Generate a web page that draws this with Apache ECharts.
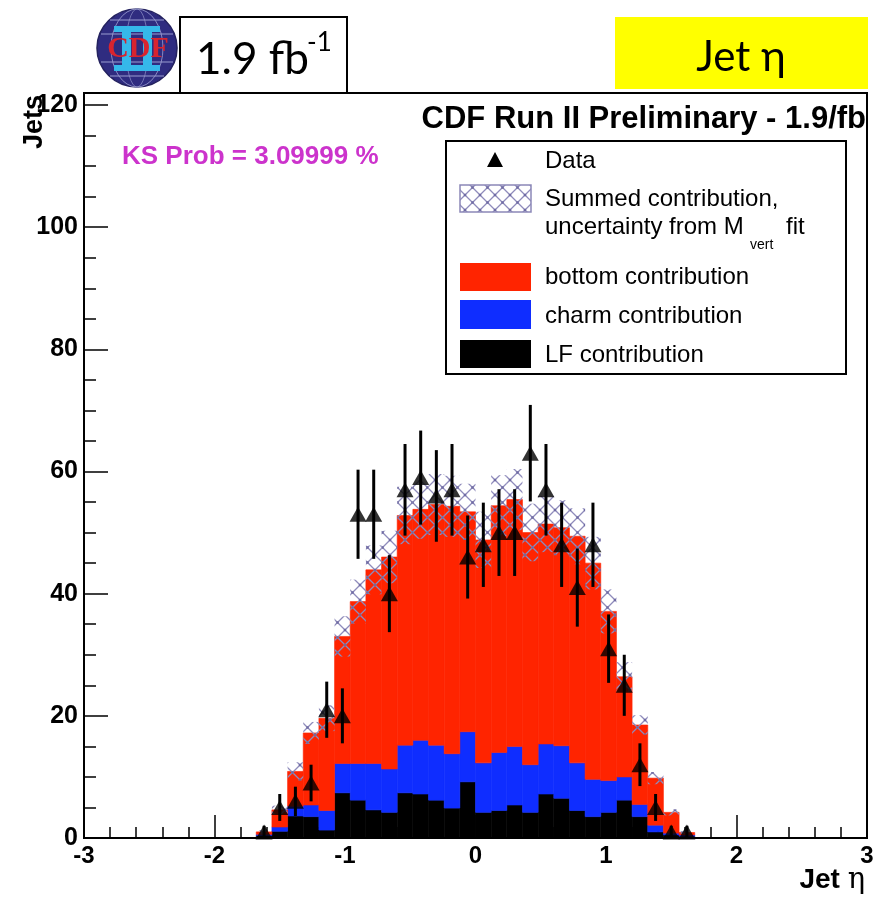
<!DOCTYPE html>
<html><head><meta charset="utf-8">
<script src="https://cdn.jsdelivr.net/npm/echarts@6/dist/echarts.min.js"></script>
<style>html,body{margin:0;padding:0;background:#fff}#c{width:877px;height:899px}</style>
</head><body><div id="c"></div>
<script>
// ---- data ----
const binCenters = [-1.62,-1.50,-1.38,-1.26,-1.14,-1.02,-0.90,-0.78,-0.66,-0.54,-0.42,-0.30,-0.18,-0.06,
                     0.06, 0.18, 0.30, 0.42, 0.54, 0.66, 0.78, 0.90, 1.02, 1.14, 1.26, 1.38, 1.50, 1.62];
const binWidth = 0.12;
const lfContribution     = [0.4,1.1,3.6,3.5,1.3,7.4,6.2,4.6,4.2,7.4,7.2,6.2,4.9,9.2,4.2,4.5,5.4,4.2,7.2,6.5,4.5,3.5,4.2,6.2,3.5,1.0,0.5,0.3];
const charmContribution  = [0.2,0.7,1.6,1.9,3.2,4.8,6.0,7.6,7.1,7.8,8.8,9.0,8.9,8.2,8.1,9.5,9.6,7.8,8.2,8.6,7.8,6.1,5.2,3.8,2.0,1.1,0.3,0.2];
const bottomContribution = [0.4,2.8,5.7,11.8,15.1,20.8,26.5,31.7,34.7,37.6,37.8,39.4,40.5,36.0,36.5,40.4,40.4,38.0,36.0,35.7,37.1,35.4,27.7,16.4,13.0,7.7,3.4,0.4];
const sumUncertainty     = [0.3,0.7,1.5,1.8,2.1,3.3,3.6,4.0,4.3,4.7,4.8,5.0,5.0,4.6,4.6,5.0,5.0,4.7,4.6,4.5,4.6,4.3,3.6,2.4,1.6,1.0,0.5,0.2];
const dataCounts = [1,5,6,9,21,20,53,53,40,57,59,56,57,46,48,50,50,63,57,48,41,48,31,25,12,5,1,1];
const dataErrors = [1,2.2,2.4,3,4.6,4.5,7.3,7.3,6.3,7.5,7.7,7.5,7.5,6.8,6.9,7.1,7.1,7.9,7.5,6.9,6.4,6.9,5.6,5,3.5,2.2,1,1];
const xTicks = [-3,-2,-1,0,1,2,3];
const yTicks = [0,20,40,60,80,100,120];

// ---- derived layers ----
const lfLayer = [], charmLayer = [], bottomLayer = [], bandLayer = [];
binCenters.forEach((c, i) => {
  const a = lfContribution[i], b = a + charmContribution[i], t = b + bottomContribution[i];
  lfLayer.push([c, 0, a]);
  charmLayer.push([c, a, b]);
  bottomLayer.push([c, b, t]);
  bandLayer.push([c, t - sumUncertainty[i], t + sumUncertainty[i]]);
});
const points = binCenters.map((c, i) => [c, dataCounts[i]]);
const errs = binCenters.map((c, i) => [c, dataCounts[i] - dataErrors[i], dataCounts[i] + dataErrors[i]]);

function makeHatch() {
  const s = 15, cv = document.createElement('canvas');
  cv.width = s; cv.height = s;
  const g = cv.getContext('2d');
  g.strokeStyle = '#8f8bbb'; g.lineWidth = 1.3;
  g.beginPath(); g.moveTo(0, 0); g.lineTo(s, s); g.moveTo(s, 0); g.lineTo(0, s); g.stroke();
  g.fillStyle = '#6f6ba3';
  g.fillRect(s/2 - 1.2, s/2 - 1.2, 2.4, 2.4);
  [[0,0],[s,0],[0,s],[s,s]].forEach(p => g.fillRect(p[0]-1.2, p[1]-1.2, 2.4, 2.4));
  return cv;
}
const hatch = { image: makeHatch(), repeat: 'repeat' };

function rectRenderer(fill, stroke) {
  return function (params, api) {
    const c = api.value(0), lo = api.value(1), hi = api.value(2);
    const p0 = api.coord([c - binWidth / 2, lo]);
    const p1 = api.coord([c + binWidth / 2, hi]);
    return {
      type: 'rect',
      shape: { x: p0[0], y: p1[1], width: p1[0] - p0[0], height: p0[1] - p1[1] },
      style: { fill: fill, stroke: stroke, lineWidth: stroke ? 0.6 : 0 }
    };
  };
}

const RED = '#ff2400', BLUE = '#0f2dff', BLACK = '#000000', HATCHC = '#8c88b8';
const F = 'Liberation Sans, Arial, sans-serif';
function txt(x, y, text, font, extra) {
  return { type: 'text', z: 61, x: x, y: y,
    style: Object.assign({ text: text, font: font, fill: '#000', align: 'left', verticalAlign: 'middle' }, extra || {}) };
}
function oval(cx, cy, rx, ry, style, z) {
  return { type: 'circle', z: z, x: cx, y: cy, scaleX: rx / ry, shape: { cx: 0, cy: 0, r: ry },
           style: Object.assign({ strokeNoScale: true }, style) };
}

const chart = echarts.init(document.getElementById('c'), null, { renderer: 'canvas' });
chart.setOption({
  animation: false,
  backgroundColor: '#fff',
  grid: { left: 84, right: 10, top: 105, bottom: 61, show: false },
  xAxis: {
    type: 'value', min: xTicks[0], max: xTicks[xTicks.length - 1], interval: 1,
    axisLine: { show: true, onZero: false, lineStyle: { color: '#000', width: 2 } },
    axisTick: { show: true, inside: true, length: 23, lineStyle: { color: '#000', width: 1.5 } },
    minorTick: { show: true, splitNumber: 5, length: 11, lineStyle: { color: '#000', width: 1.5 } },
    splitLine: { show: false },
    axisLabel: { color: '#000', fontFamily: F, fontWeight: 'bold', fontSize: 24, margin: 6 }
  },
  yAxis: {
    type: 'value', min: yTicks[0], max: yTicks[yTicks.length - 1], interval: 20,
    axisLine: { show: true, onZero: false, lineStyle: { color: '#000', width: 2 } },
    axisTick: { show: true, inside: true, length: 24, lineStyle: { color: '#000', width: 1.5 } },
    minorTick: { show: true, splitNumber: 4, length: 12, lineStyle: { color: '#000', width: 1.5 } },
    splitLine: { show: false },
    axisLabel: { color: '#000', fontFamily: F, fontWeight: 'bold', fontSize: 25, margin: 6 }
  },
  series: [
    { type: 'custom', name: 'LF', renderItem: rectRenderer(BLACK, BLACK), data: lfLayer, encode: { x: 0, y: [1, 2] }, z: 2 },
    { type: 'custom', name: 'charm', renderItem: rectRenderer(BLUE, BLUE), data: charmLayer, encode: { x: 0, y: [1, 2] }, z: 2 },
    { type: 'custom', name: 'bottom', renderItem: rectRenderer(RED, RED), data: bottomLayer, encode: { x: 0, y: [1, 2] }, z: 2 },
    { type: 'custom', name: 'sum', renderItem: rectRenderer(hatch, null), data: bandLayer, encode: { x: 0, y: [1, 2] }, z: 3 },
    {
      type: 'custom', name: 'err', z: 4, data: errs, encode: { x: 0, y: [1, 2] },
      renderItem: function (params, api) {
        const c = api.value(0);
        const a = api.coord([c, api.value(1)]), b = api.coord([c, api.value(2)]);
        return { type: 'line', shape: { x1: a[0], y1: a[1], x2: b[0], y2: b[1] }, style: { stroke: '#000', lineWidth: 3 } };
      }
    },
    { type: 'scatter', name: 'Data', z: 5, data: points, symbol: 'triangle', symbolSize: [17, 15], itemStyle: { color: '#000' } }
  ],
  graphic: [
    // plot frame
    { type: 'rect', z: 50, shape: { x: 84, y: 93, width: 783, height: 745 }, style: { fill: null, stroke: '#000', lineWidth: 2 } },
    // title + KS
    txt(866, 119, 'CDF Run II Preliminary - 1.9/fb', 'bold 31px ' + F, { align: 'right' }),
    txt(122, 157, 'KS Prob = 3.09999 %', 'bold 26px ' + F, { fill: '#cc33cc' }),
    // legend
    { type: 'rect', z: 60, shape: { x: 446, y: 141, width: 400, height: 233 }, style: { fill: '#fff', stroke: '#000', lineWidth: 2 } },
    { type: 'polygon', z: 61, shape: { points: [[495, 152], [503, 167], [487, 167]] }, style: { fill: '#000' } },
    txt(545, 161, 'Data', '24px ' + F),
    { type: 'rect', z: 61, shape: { x: 460, y: 185, width: 71, height: 27 }, style: { fill: hatch, stroke: HATCHC, lineWidth: 1.5 } },
    txt(545, 199, 'Summed contribution,', '24px ' + F),
    txt(545, 227, 'uncertainty from M', '24px ' + F),
    txt(750, 245, 'vert', '14px ' + F),
    txt(786, 227, 'fit', '24px ' + F),
    { type: 'rect', z: 61, shape: { x: 460, y: 263, width: 71, height: 28 }, style: { fill: RED } },
    txt(545, 277, 'bottom contribution', '24px ' + F),
    { type: 'rect', z: 61, shape: { x: 460, y: 300, width: 71, height: 29 }, style: { fill: BLUE } },
    txt(545, 316, 'charm contribution', '24px ' + F),
    { type: 'rect', z: 61, shape: { x: 460, y: 340, width: 71, height: 28 }, style: { fill: BLACK } },
    txt(545, 355, 'LF contribution', '24px ' + F),
    // axis titles
    { type: 'text', z: 62, x: 35, y: 95, rotation: Math.PI / 2,
      style: { text: 'Jets', font: 'bold 27px ' + F, fill: '#000', align: 'right', verticalAlign: 'middle' } },
    { type: 'text', z: 62, x: 865, y: 880,
      style: { text: '{b|Jet }{g|η}', align: 'right', verticalAlign: 'middle',
        rich: { b: { fontFamily: F, fontWeight: 'bold', fontSize: 28, color: '#000' },
                g: { fontFamily: 'DejaVu Serif, serif', fontSize: 29, color: '#000' } } } },
    // header: yellow box
    { type: 'rect', z: 60, shape: { x: 615, y: 17, width: 253, height: 72 }, style: { fill: '#ffff00' } },
    txt(741, 57, 'Jet η', '42px Lato, sans-serif', { align: 'center' }),
    // header: luminosity box
    { type: 'rect', z: 60, shape: { x: 180, y: 17, width: 167, height: 76 }, style: { fill: '#fff', stroke: '#000', lineWidth: 2 } },
    txt(196, 60, '1.9 fb', '44px Lato, sans-serif'),
    txt(307, 43, '-1', '26px Lato, sans-serif'),
    // CDF logo
    oval(137, 48, 40, 39, { fill: '#2f2c80', stroke: '#24225f', lineWidth: 1.5 }, 55),
    oval(137, 48, 26, 39, { fill: null, stroke: '#9a9cd0', lineWidth: 1 }, 56),
    oval(137, 48, 11, 39, { fill: null, stroke: '#9a9cd0', lineWidth: 1 }, 56),
    { type: 'line', z: 56, shape: { x1: 101, y1: 34, x2: 173, y2: 34 }, style: { stroke: '#9a9cd0', lineWidth: 1 } },
    { type: 'line', z: 56, shape: { x1: 101, y1: 62, x2: 173, y2: 62 }, style: { stroke: '#9a9cd0', lineWidth: 1 } },
    { type: 'line', z: 56, shape: { x1: 110, y1: 20, x2: 164, y2: 20 }, style: { stroke: '#9a9cd0', lineWidth: 1 } },
    { type: 'line', z: 56, shape: { x1: 110, y1: 76, x2: 164, y2: 76 }, style: { stroke: '#9a9cd0', lineWidth: 1 } },
    { type: 'rect', z: 57, shape: { x: 114, y: 26, width: 46, height: 6 }, style: { fill: '#35b8ea' } },
    { type: 'rect', z: 57, shape: { x: 114, y: 65, width: 46, height: 6 }, style: { fill: '#35b8ea' } },
    { type: 'rect', z: 57, shape: { x: 122, y: 26, width: 9, height: 45 }, style: { fill: '#35b8ea' } },
    { type: 'rect', z: 57, shape: { x: 143, y: 26, width: 9, height: 45 }, style: { fill: '#35b8ea' } },
    txt(138, 49, 'CDF', 'bold 30px Liberation Serif, serif', { align: 'center', fill: '#d8242f' })
  ]
});
</script></body></html>
